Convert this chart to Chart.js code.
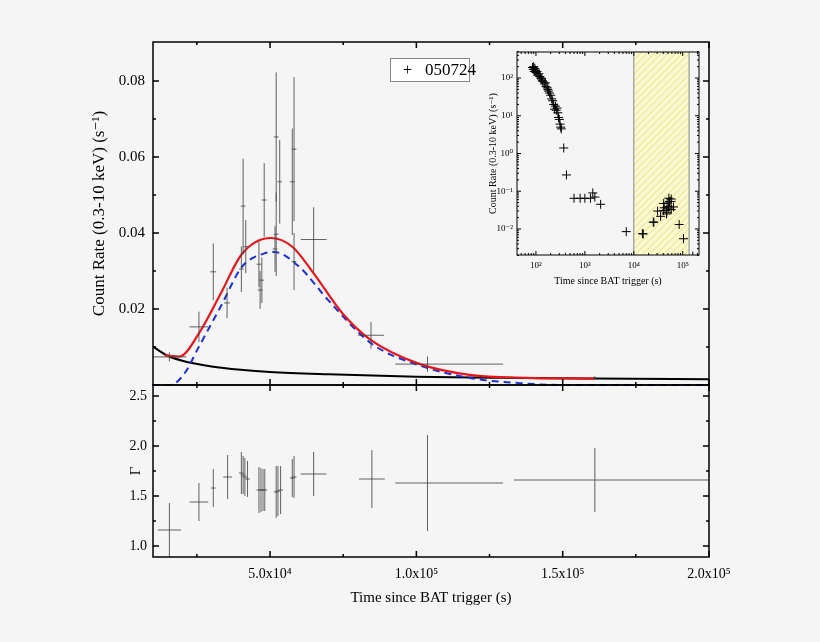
<!DOCTYPE html>
<html><head><meta charset="utf-8">
<script src="https://cdn.jsdelivr.net/npm/chart.js@4"></script>
<style>
html,body{margin:0;padding:0;background:#f5f5f5;}
#wrap{position:relative;width:820px;height:642px;background:#f5f5f5;}
canvas{position:absolute;left:0;top:0;}
#legend{position:absolute;left:390px;top:58px;width:78px;height:22px;background:#fff;border:1px solid #888;
 font-family:"Liberation Serif",serif;font-size:17px;line-height:22px;color:#000;}
#legend .m{position:absolute;left:12px;top:0;font-size:16px;}
#legend .t{position:absolute;left:34px;top:0;}
</style></head><body>
<div id="wrap">
<canvas id="cTop" width="820" height="642"></canvas>
<canvas id="cBot" width="820" height="642"></canvas>
<canvas id="cIns" width="820" height="642"></canvas>
<div id="legend"><span class="m">+</span><span class="t">050724</span></div>
</div>
<script>
// ---------- DATA ----------
// Main panel: count rate points (time in s)
const rateTime = [15600,25700,30600,35300,40200,40800,41700,46200,46600,47200,48000,51700,52100,52100,53300,57600,58200,58200,64900,84500,103800,160900];
const rateTimeErrLo = [5800,3200,1000,1000,800,800,800,800,800,800,800,800,800,800,800,800,800,800,4400,4400,11000,500];
const rateTimeErrHi = [5800,3200,1000,1000,800,800,800,800,800,800,800,800,800,800,800,800,800,800,4400,4400,25800,500];
const rateValue = [0.0074,0.0153,0.0298,0.0216,0.0305,0.0471,0.0364,0.0318,0.0250,0.0276,0.0487,0.0358,0.0653,0.0397,0.0535,0.0535,0.0621,0.0325,0.0383,0.0131,0.0055,0.0019];
const rateErr = [0.0012,0.004,0.0075,0.004,0.006,0.0125,0.007,0.006,0.005,0.006,0.0097,0.006,0.017,0.011,0.011,0.014,0.019,0.0075,0.0085,0.0035,0.002,0.0004];

// Fit curves
const totalFitT = [14000,19000,25700,33100,40400,50200,57600,64900,74700,84500,100500,118800,137200,160900];
const totalFitV = [0.0078,0.0075,0.0136,0.0240,0.0345,0.0387,0.0364,0.0294,0.0189,0.0118,0.0057,0.0026,0.0019,0.0017];
const bumpFitT = [10000,16000,20800,25700,33100,40400,47800,51500,60000,69800,84500,100500,118800,137000,150000,200000];
const bumpFitV = [0,0,0.0031,0.0101,0.0206,0.0311,0.0346,0.0350,0.0311,0.0224,0.0110,0.0053,0.0018,0.0004,0,0];
const decayFitT = [10000,15000,20000,30000,40000,50000,70000,100000,130000,160000,200000];
const decayFitV = [0.0101,0.0077,0.0064,0.0049,0.0040,0.0034,0.0028,0.0022,0.0019,0.0017,0.0015];

// Photon index panel
const gammaTime = [15600,25700,30600,35500,40200,40800,41400,42300,46200,46900,47600,48200,52100,52700,53600,57600,58200,64900,84800,103800,161000];
const gammaTimeErrLo = [4000,3200,800,1500,800,800,800,800,800,800,800,800,800,800,800,800,800,4400,4400,11000,27700];
const gammaTimeErrHi = [4000,3200,800,1500,800,800,800,800,800,800,800,800,800,800,800,800,800,4400,4400,25800,39700];
const gammaValue = [1.16,1.44,1.58,1.69,1.73,1.71,1.69,1.67,1.56,1.56,1.56,1.56,1.54,1.55,1.56,1.68,1.69,1.72,1.67,1.63,1.66];
const gammaErr = [0.27,0.19,0.19,0.22,0.21,0.19,0.19,0.18,0.23,0.22,0.21,0.21,0.26,0.25,0.24,0.19,0.21,0.22,0.29,0.48,0.32];

// Inset: early steep decay + plateau (time s, rate)
const earlyTime = [85,88,90,92,95,98,100,105,110,115,120,125,130,135,140,150,155,160,170,175,180,190,200,210,220,230,240,250,260,270,280,290,300,310,320,330,370,420,600,800,1000,1300,1450,1600,2100,7000,15000,25000];
const earlyRate = [190,170,200,150,180,160,140,150,120,130,110,100,95,85,80,70,75,60,55,50,45,40,35,28,25,20,15,18,14,16,12,9,8,6,5,4.5,1.4,0.27,0.065,0.065,0.065,0.065,0.09,0.07,0.045,0.0085,0.0075,0.015];
const hatchRange = [10000,135000];

// Tick labels
const mainXTicks = [50000,100000,150000,200000];
const mainXTickLabels = ['5.0x10\u2074','1.0x10\u2075','1.5x10\u2075','2.0x10\u2075'];
const rateTicks = [0.02,0.04,0.06,0.08];
const gammaTicks = [1.0,1.5,2.0,2.5];
const insetXTicks = [100,1000,10000,100000];
const insetXLabels = ['10\u00b2','10\u00b3','10\u2074','10\u2075'];
const insetYTicks = [0.01,0.1,1,10,100];
const insetYLabels = ['10\u207b\u00b2','10\u207b\u00b9','10\u2070','10\u00b9','10\u00b2'];

// ---------- HELPERS ----------
const SERIF = '"Liberation Serif","DejaVu Serif",serif';
const xy = (xs, ys) => xs.map((x,i)=>({x:x, y:ys[i]}));

function errorBarPlugin(xs, lo, hi, ys, ye, color){
  return {id:'eb', afterDatasetsDraw(chart){
    const {ctx, scales:{x,y}, chartArea:a} = chart;
    ctx.save(); ctx.beginPath(); ctx.rect(a.left,a.top,a.right-a.left,a.bottom-a.top); ctx.clip();
    ctx.strokeStyle=color; ctx.lineWidth=1;
    xs.forEach((t,i)=>{
      const px=x.getPixelForValue(t), py=y.getPixelForValue(ys[i]);
      ctx.beginPath();
      ctx.moveTo(x.getPixelForValue(t-lo[i]),py); ctx.lineTo(x.getPixelForValue(t+hi[i]),py);
      ctx.moveTo(px,y.getPixelForValue(ys[i]-ye[i])); ctx.lineTo(px,y.getPixelForValue(ys[i]+ye[i]));
      ctx.stroke();
    });
    ctx.restore();
  }};
}
function frameTicksPlugin(xMaj,xMin,yMaj,yMin,opts){
  return {id:'ft', afterDraw(chart){
    const {ctx, scales:{x,y}, chartArea:a} = chart;
    ctx.save(); ctx.strokeStyle='#000'; ctx.lineWidth=opts.lw||1.5;
    ctx.strokeRect(a.left,a.top,a.right-a.left,a.bottom-a.top);
    const L=opts.maj||6, l=opts.min||3;
    const tx=(v,len)=>{const p=x.getPixelForValue(v); if(p<a.left-0.5||p>a.right+0.5)return;
      ctx.moveTo(p,a.bottom);ctx.lineTo(p,a.bottom-len);ctx.moveTo(p,a.top);ctx.lineTo(p,a.top+len);};
    const ty=(v,len)=>{const p=y.getPixelForValue(v); if(p<a.top-0.5||p>a.bottom+0.5)return;
      ctx.moveTo(a.left,p);ctx.lineTo(a.left+len,p);ctx.moveTo(a.right,p);ctx.lineTo(a.right-len,p);};
    ctx.beginPath();
    xMaj.forEach(v=>tx(v,L)); xMin.forEach(v=>tx(v,l));
    yMaj.forEach(v=>ty(v,L)); yMin.forEach(v=>ty(v,l));
    ctx.stroke(); ctx.restore();
  }};
}
const fixTicks = vals => (s)=>{ s.ticks = vals.map(v=>({value:v})); };
const logMinors = (lo,hi)=>{const r=[];for(let e=lo;e<=hi;e++)for(let k=2;k<=9;k++)r.push(k*Math.pow(10,e));return r;};

// ---------- TOP PANEL ----------
new Chart(document.getElementById('cTop'), {
  type:'line',
  data:{datasets:[
    {data:xy(totalFitT,totalFitV), borderColor:'#e8151b', borderWidth:2.2, pointRadius:0, cubicInterpolationMode:'monotone', fill:false},
    {data:xy(bumpFitT,bumpFitV), borderColor:'#1b2fd6', borderWidth:2, borderDash:[7,5], pointRadius:0, cubicInterpolationMode:'monotone', fill:false},
    {data:xy(decayFitT,decayFitV), borderColor:'#000', borderWidth:2, pointRadius:0, cubicInterpolationMode:'monotone', fill:false},
    {data:xy(rateTime,rateValue), showLine:false, pointRadius:0}
  ]},
  options:{responsive:false, animation:false, clip:false,
    layout:{padding:{left:89,right:111,top:42,bottom:257}},
    plugins:{legend:{display:false},tooltip:{enabled:false}},
    scales:{
      x:{type:'linear',min:10000,max:200000,display:false},
      y:{type:'linear',min:0,max:0.0903,
        afterBuildTicks:fixTicks(rateTicks),
        afterFit:s=>{s.width=64;},
        grid:{display:false,drawTicks:false}, border:{display:false},
        ticks:{color:'#000',padding:8,font:{family:SERIF,size:15},callback:v=>v.toFixed(2)},
        title:{display:true,text:'Count Rate (0.3-10 keV) (s\u207b\u00b9)',color:'#000',font:{family:SERIF,size:17},padding:{top:0,bottom:4}}
      }}
  },
  plugins:[errorBarPlugin(rateTime,rateTimeErrLo,rateTimeErrHi,rateValue,rateErr,'rgba(70,70,70,0.85)'),
           frameTicksPlugin(mainXTicks,[25000,75000,125000,175000],rateTicks,[0.01,0.03,0.05,0.07],{})]
});

// ---------- BOTTOM PANEL ----------
new Chart(document.getElementById('cBot'), {
  type:'scatter',
  data:{datasets:[{data:xy(gammaTime,gammaValue), pointRadius:0}]},
  options:{responsive:false, animation:false,
    layout:{padding:{left:127,right:111,top:385,bottom:35}},
    plugins:{legend:{display:false},tooltip:{enabled:false}},
    scales:{
      x:{type:'linear',min:10000,max:200000,
        afterBuildTicks:fixTicks(mainXTicks),
        afterFit:s=>{s.height=50;},
        grid:{display:false,drawTicks:false}, border:{display:false},
        ticks:{color:'#000',padding:9,maxRotation:0,font:{family:SERIF,size:14},callback:(v)=>mainXTickLabels[mainXTicks.indexOf(v)]},
        title:{display:true,text:'Time since BAT trigger (s)',color:'#000',font:{family:SERIF,size:15},padding:{top:6,bottom:0}}
      },
      y:{type:'linear',min:0.89,max:2.61,
        afterBuildTicks:fixTicks(gammaTicks),
        afterFit:s=>{s.width=26;},
        grid:{display:false,drawTicks:false}, border:{display:false},
        ticks:{color:'#000',padding:6,font:{family:SERIF,size:14},callback:v=>v.toFixed(1)},
        title:{display:true,text:'\u0393',color:'#000',font:{family:SERIF,size:15},padding:{top:0,bottom:0}}
      }}
  },
  plugins:[errorBarPlugin(gammaTime,gammaTimeErrLo,gammaTimeErrHi,gammaValue,gammaErr,'rgba(70,70,70,0.85)'),
           frameTicksPlugin(mainXTicks,[25000,75000,125000,175000],gammaTicks,[1.25,1.75,2.25],{})]
});

// ---------- INSET ----------
const hatchPlugin = {id:'hatch', beforeDatasetsDraw(chart){
  const {ctx, scales:{x}, chartArea:a} = chart;
  const x0=x.getPixelForValue(hatchRange[0]), x1=x.getPixelForValue(hatchRange[1]);
  ctx.save();
  ctx.fillStyle='#fbf8cf'; ctx.fillRect(x0,a.top,x1-x0,a.bottom-a.top);
  ctx.beginPath(); ctx.rect(x0,a.top,x1-x0,a.bottom-a.top); ctx.clip();
  ctx.strokeStyle='#e2d96a'; ctx.lineWidth=0.8; ctx.beginPath();
  for(let k=-300;k<300;k+=7){ctx.moveTo(x0+k,a.bottom);ctx.lineTo(x0+k+(a.bottom-a.top),a.top);}
  ctx.stroke(); ctx.restore();
  ctx.save(); ctx.strokeStyle='#888'; ctx.lineWidth=1; ctx.beginPath();
  ctx.moveTo(x0,a.top);ctx.lineTo(x0,a.bottom);ctx.moveTo(x1,a.top);ctx.lineTo(x1,a.bottom);ctx.stroke(); ctx.restore();
}};
new Chart(document.getElementById('cIns'), {
  type:'scatter',
  data:{datasets:[
    {data:xy(earlyTime,earlyRate), pointStyle:'cross', pointRadius:4.5, borderColor:'#000', borderWidth:1},
    {data:xy(rateTime,rateValue), pointStyle:'cross', pointRadius:4.5, borderColor:'#000', borderWidth:1}
  ]},
  options:{responsive:false, animation:false,
    layout:{padding:{left:487,right:121,top:52,bottom:355}},
    plugins:{legend:{display:false},tooltip:{enabled:false}},
    scales:{
      x:{type:'logarithmic',min:41,max:215000,
        afterBuildTicks:fixTicks(insetXTicks),
        afterFit:s=>{s.height=32;},
        grid:{display:false,drawTicks:false}, border:{display:false},
        ticks:{color:'#000',padding:5,maxRotation:0,font:{family:SERIF,size:9},callback:v=>insetXLabels[insetXTicks.indexOf(v)]},
        title:{display:true,text:'Time since BAT trigger (s)',color:'#000',font:{family:SERIF,size:10},padding:{top:4,bottom:0}}
      },
      y:{type:'logarithmic',min:0.00204,max:490,
        afterBuildTicks:fixTicks(insetYTicks),
        afterFit:s=>{s.width=30;},
        grid:{display:false,drawTicks:false}, border:{display:false},
        ticks:{color:'#000',padding:4,font:{family:SERIF,size:9},callback:v=>insetYLabels[insetYTicks.indexOf(v)]},
        title:{display:true,text:'Count Rate (0.3-10 keV) (s\u207b\u00b9)',color:'#000',font:{family:SERIF,size:10},padding:{top:0,bottom:2}}
      }}
  },
  plugins:[hatchPlugin, frameTicksPlugin(insetXTicks,logMinors(1,5),insetYTicks,logMinors(-3,2),{lw:1,maj:4,min:2})]
});
</script>
</body></html>
